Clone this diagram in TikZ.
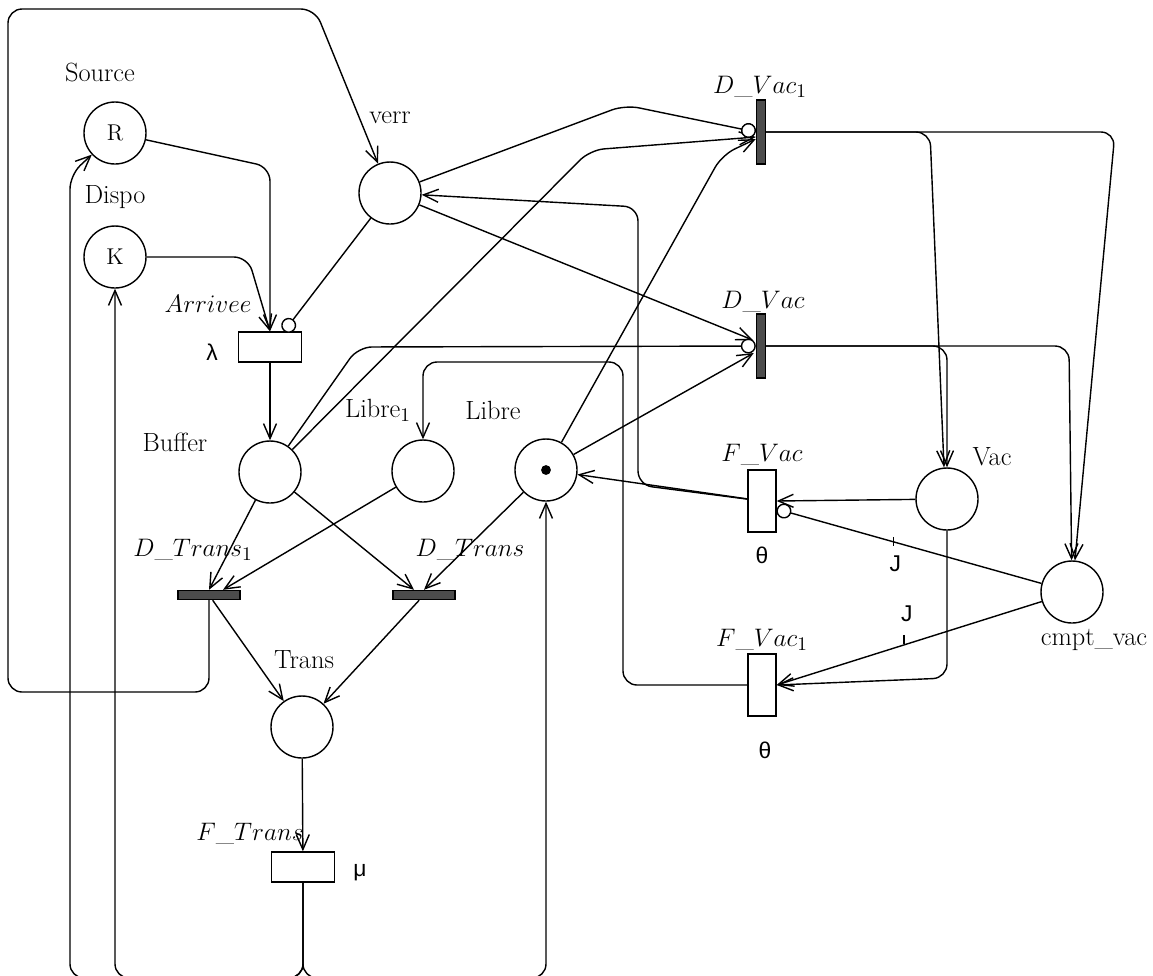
\documentclass[tikz,border=0pt]{standalone}
\usepackage{fontspec}
\usetikzlibrary{calc}
\usetikzlibrary{arrows.meta}
\newfontfamily\grk{Liberation Sans}
\def\pu{0.02cm}

\begin{document}
\begin{tikzpicture}[x=\pu,y=-\pu,line width=0.8pt,
  every node/.style={font=\fontsize{15}{17}\selectfont},
  place/.style={draw,circle,minimum size=62*\pu,inner sep=0pt},
  tbox/.style={draw,fill=white,rectangle,inner sep=0pt},
  tbar/.style={draw,fill=black!70,rectangle,inner sep=0pt},
  hbox/.style={tbox,minimum width=63*\pu,minimum height=30*\pu},
  vbox/.style={tbox,minimum width=28*\pu,minimum height=62*\pu},
  hbar/.style={tbar,minimum width=62*\pu,minimum height=9*\pu},
  vbar/.style={tbar,minimum width=9*\pu,minimum height=64*\pu},
  flow/.style={rounded corners=8pt,-{Straight Barb[length=3mm,width=2.6mm]}},
  inh/.style={rounded corners=8pt,-{Circle[length=3mm,fill=white]}},
  rate/.style={font=\grk\fontsize{13}{15}\selectfont}]
\useasboundingbox (0,0) rectangle (1153,975);
\clip (0,0) rectangle (1153,975);

\node[place,font=\fontsize{13}{15}\selectfont] (src) at (115,133) {R} node at ($(src)+(-15,-61)$) {Source};
\node[place,font=\fontsize{13}{15}\selectfont] (dispo) at (115,257) {K} node at ($(dispo)+(0,-60)$) {Dispo};
\node[place] (verr) at (390,193) {} node at ($(verr)+(0,-75)$) {verr};
\node[hbox] (arr) at (270,347) {} node at ($(arr)+(-62,-43)$) {$Arrivee$};
\node[rate] at ($(arr)+(-58,5)$) {λ};
\node[place] (buf) at (270,472) {} node at ($(buf)+(-95,-30)$) {Buffer};
\node[place] (lib1) at (423,471) {} node at ($(lib1)+(-45,-61)$) {Libre$_1$};
\node[place] (lib) at (546,470) {} node at ($(lib)+(-53,-60)$) {Libre};
\fill (lib) circle (2.8pt);
\node[hbar] (dtr1) at (209,595) {} node at ($(dtr1)+(-16,-45)$) {$D\_Trans_1$};
\node[hbar] (dtr) at (424,595) {} node at ($(dtr)+(46,-45)$) {$D\_Trans$};
\node[place] (trans) at (302,727) {} node at ($(trans)+(2,-67)$) {Trans};
\node[hbox] (ftr) at (303,867) {} node at ($(ftr)+(-53,-33)$) {$F\_Trans$};
\node[rate] at ($(ftr)+(57,6)$) {μ};
\node[vbar] (dvac1) at (761,132) {} node at ($(dvac1)+(-1,-45)$) {$D\_Vac_1$};
\node[vbar] (dvac) at (761,346) {} node at ($(dvac)+(2,-44)$) {$D\_Vac$};
\node[vbox] (fvac) at (762,501) {} node at ($(fvac)+(0,-46)$) {$F\_Vac$};
\node[rate] at ($(fvac)+(0,54)$) {θ};
\node[vbox] (fvac1) at (762,685) {} node at ($(fvac1)+(0,-45)$) {$F\_Vac_1$};
\node[rate] at ($(fvac1)+(3,65)$) {θ};
\node[place] (vac) at (947,499) {} node at ($(vac)+(45,-42)$) {Vac};
\node[place] (cmpt) at (1072,592) {} node at ($(cmpt)+(22,48)$) {cmpt\_vac};

\draw[flow] (src) -- (270,167) -- (arr.north);
\draw[flow] (dispo) -- (248,257) -- (arr.north);
\draw[inh] (verr) -- (arr.48);
\draw[flow] (arr) -- (buf);
\draw[flow] (dtr1) -- (209,692) -- (8,692) -- (8,9) -- (315,9) -- (verr);

\draw[flow] (buf) -- (dtr1.north);
\draw[flow] (lib1) -- ($(dtr1.north)+(14,0)$);
\draw[flow] (buf) -- ($(dtr.north)+(-10,0)$);
\draw[flow] (lib) -- (dtr.north);
\draw[flow] (dtr1) -- (trans);
\draw[flow] (dtr) -- (trans);
\draw[flow] (trans) -- (ftr);

\draw[flow] (ftr) -- (303,978) -- (70,978) -- (70,175) -- (src);
\draw[flow] (ftr) -- (303,978) -- (115,978) -- (dispo);
\draw[flow] (ftr) -- (303,978) -- (546,978) -- (lib);

\draw[inh] (buf) -- (358,347) -- (dvac.west);
\draw[flow] (buf) -- (590,150) -- ($(dvac1.west)+(0,5)$);
\draw[inh] (verr) -- (625,105) -- (dvac1.west);
\draw[flow] (verr) -- ($(dvac.west)+(-3,-6)$);
\draw[flow] (lib) -- (722,155) -- ($(dvac1.west)+(0,7)$);
\draw[flow] (lib) -- ($(dvac.west)+(-2,7)$);

\draw[flow] (dvac1) -- (930,132) -- ($(vac.north)+(-3,0)$);
\draw[flow] (dvac1) -- (1115,132) -- (cmpt);
\draw[flow] (dvac) -- (947,346) -- (vac);
\draw[flow] (dvac) -- (1069,346) -- (cmpt);

\draw[flow] (vac) -- (fvac.east);
\draw[flow] (vac) -- (947,678) -- (fvac1.east);
\draw[inh] (cmpt) -- coordinate[pos=0.56] (jw1) ($(fvac.east)+(0,8)$);
\draw[flow] (cmpt) -- coordinate[pos=0.52] (jw2) (fvac1.east);
\draw ($(jw1)+(0,-5)$) -- ($(jw1)+(0,4)$);
\draw ($(jw2)+(0,-10)$) -- ($(jw2)+(0,-1)$);
\node[rate] at ($(jw1)+(2,22)$) {J};
\node[rate] at ($(jw2)+(3,-31)$) {J};

\draw[flow] (fvac) -- (lib);
\draw[flow] (fvac) -- (638,485) -- (638,207) -- (verr);
\draw[flow] (fvac1) -- (623,685) -- (623,362) -- (423,362) -- (lib1);
\end{tikzpicture}
\end{document}
